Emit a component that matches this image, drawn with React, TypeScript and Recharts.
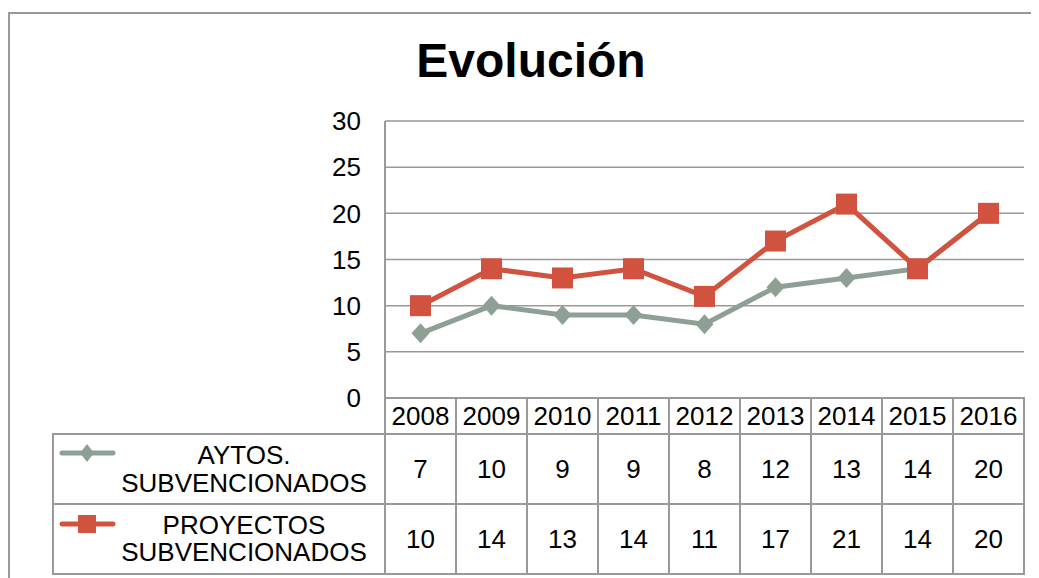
import React from 'react';
import { LineChart, Line, XAxis, YAxis, CartesianGrid } from 'recharts';

const years = ['2008', '2009', '2010', '2011', '2012', '2013', '2014', '2015', '2016'];
const aytos = [7, 10, 9, 9, 8, 12, 13, 14, 20];
const proyectos = [10, 14, 13, 14, 11, 17, 21, 14, 20];
const yTicks = [0, 5, 10, 15, 20, 25, 30];
const aytosLabel = ['AYTOS.', 'SUBVENCIONADOS'];
const proyectosLabel = ['PROYECTOS', 'SUBVENCIONADOS'];
const title = 'Evolución';

const data = years.map((y, i) => ({ year: y, aytos: aytos[i], proyectos: proyectos[i] }));

const W = 1031;
const H = 570;
const PLOT_LEFT = 377;
const PLOT_RIGHT = 1016;
const COL_W = (PLOT_RIGHT - PLOT_LEFT) / years.length;
const HEAD_H = 36;
const ROW_H = 70;
const TABLE_LEFT = 45;
const RED = '#D1533F';
const GREEN = '#8EA095';
const BORDER = '#999999';
const FONT = '"Liberation Sans", Arial, sans-serif';

const SquareDot = (props: any) => {
  const { cx, cy } = props;
  if (cx == null || cy == null) return null;
  return <rect x={cx - 10.5} y={cy - 10.5} width={21} height={21} fill={RED} />;
};

const DiamondDot = (props: any) => {
  const { cx, cy } = props;
  if (cx == null || cy == null) return null;
  return (
    <polygon
      points={`${cx},${cy - 10} ${cx + 9},${cy} ${cx},${cy + 10} ${cx - 9},${cy}`}
      fill={GREEN}
    />
  );
};

const TableTick = (props: any) => {
  const { x, y, payload, index } = props;
  const left = x - COL_W / 2;
  const r1 = y + HEAD_H;
  const r2 = r1 + ROW_H;
  const textProps = { fontSize: 26, fill: '#000', fontFamily: FONT, textAnchor: 'middle' as const };
  return (
    <g>
      {index === 0 && (
        <g>
          <rect x={TABLE_LEFT} y={r1} width={left - TABLE_LEFT} height={ROW_H} fill="#fff" stroke={BORDER} strokeWidth={2} />
          <rect x={TABLE_LEFT} y={r2} width={left - TABLE_LEFT} height={ROW_H} fill="#fff" stroke={BORDER} strokeWidth={2} />
          <line x1={54} x2={105} y1={r1 + 19} y2={r1 + 19} stroke={GREEN} strokeWidth={5} strokeLinecap="round" />
          <polygon points={`79,${r1 + 10} 86,${r1 + 19} 79,${r1 + 28} 72,${r1 + 19}`} fill={GREEN} />
          <line x1={54} x2={105} y1={r2 + 20} y2={r2 + 20} stroke={RED} strokeWidth={5} strokeLinecap="round" />
          <rect x={70} y={r2 + 11} width={18} height={18} fill={RED} />
          <text {...textProps} x={236} y={r1 + 21} dy="0.355em">{aytosLabel[0]}</text>
          <text {...textProps} x={236} y={r1 + 49} dy="0.355em">{aytosLabel[1]}</text>
          <text {...textProps} x={236} y={r2 + 21} dy="0.355em">{proyectosLabel[0]}</text>
          <text {...textProps} x={236} y={r2 + 48} dy="0.355em">{proyectosLabel[1]}</text>
        </g>
      )}
      <rect x={left} y={y} width={COL_W} height={HEAD_H} fill="#fff" stroke={BORDER} strokeWidth={2} />
      <rect x={left} y={r1} width={COL_W} height={ROW_H} fill="#fff" stroke={BORDER} strokeWidth={2} />
      <rect x={left} y={r2} width={COL_W} height={ROW_H} fill="#fff" stroke={BORDER} strokeWidth={2} />
      <text {...textProps} x={x} y={y + HEAD_H / 2} dy="0.355em">{payload.value}</text>
      <text {...textProps} x={x} y={r1 + ROW_H / 2} dy="0.355em">{aytos[index]}</text>
      <text {...textProps} x={x} y={r2 + ROW_H / 2} dy="0.355em">{proyectos[index]}</text>
    </g>
  );
};

export default function App() {
  return (
    <div style={{ position: 'relative', width: W, height: H, fontFamily: FONT }}>
      <div
        style={{
          position: 'absolute',
          left: 0,
          top: 4,
          width: W,
          height: H + 4,
          borderTop: `2px solid ${BORDER}`,
          borderLeft: `2px solid ${BORDER}`,
          boxSizing: 'border-box',
        }}
      />
      <div
        style={{
          position: 'absolute',
          left: 523,
          top: 29,
          transform: 'translateX(-50%)',
          fontSize: 48,
          lineHeight: '48px',
          fontWeight: 'bold',
          whiteSpace: 'nowrap',
          color: '#000',
        }}
      >
        {title}
      </div>
      <div style={{ position: 'absolute', left: 0, top: 0 }}>
        <LineChart
          width={W}
          height={H}
          data={data}
          margin={{ top: 113, right: W - PLOT_RIGHT, bottom: 4, left: PLOT_LEFT - 60 }}
        >
          <CartesianGrid horizontal vertical={false} stroke={BORDER} strokeWidth={1.5} />
          <XAxis
            dataKey="year"
            interval={0}
            height={HEAD_H + 2 * ROW_H}
            tickSize={0}
            tickMargin={0}
            tickLine={false}
            axisLine={{ stroke: BORDER, strokeWidth: 2 }}
            padding={{ left: COL_W / 2, right: COL_W / 2 }}
            tick={<TableTick />}
          />
          <YAxis
            width={60}
            domain={[0, 30]}
            ticks={yTicks}
            interval={0}
            tickSize={0}
            tickMargin={24}
            tickLine={false}
            axisLine={{ stroke: BORDER, strokeWidth: 2 }}
            tick={{ fontSize: 26, fill: '#000', fontFamily: FONT }}
          />
          <Line
            dataKey="aytos"
            stroke={GREEN}
            strokeWidth={5}
            dot={<DiamondDot />}
            activeDot={false}
            isAnimationActive={false}
          />
          <Line
            dataKey="proyectos"
            stroke={RED}
            strokeWidth={5}
            dot={<SquareDot />}
            activeDot={false}
            isAnimationActive={false}
          />
        </LineChart>
      </div>
    </div>
  );
}
